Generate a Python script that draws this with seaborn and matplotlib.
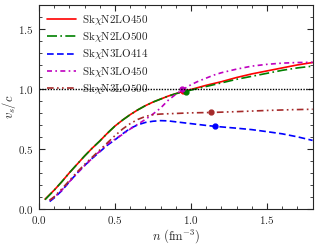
import numpy as np
import pandas as pd
import matplotlib
matplotlib.use("Agg")
import matplotlib.pyplot as plt
import seaborn as sns
from matplotlib.ticker import MultipleLocator

# curves: density n (fm^-3) and speed of sound v_s/c
n_red = [0.04, 0.1, 0.15, 0.2, 0.25, 0.3, 0.35, 0.4, 0.45, 0.5, 0.55, 0.6, 0.65, 0.7, 0.75, 0.8, 0.85,
         0.9, 0.95, 1.0, 1.1, 1.2, 1.3, 1.4, 1.5, 1.6, 1.7, 1.8]
v_red = [0.08, 0.155, 0.225, 0.30, 0.37, 0.44, 0.505, 0.565, 0.63, 0.69, 0.74, 0.785, 0.825, 0.86, 0.89,
         0.915, 0.94, 0.96, 0.98, 0.995, 1.03, 1.06, 1.095, 1.125, 1.15, 1.175, 1.20, 1.22]

n_green = [0.04, 0.1, 0.15, 0.2, 0.25, 0.3, 0.35, 0.4, 0.45, 0.5, 0.55, 0.6, 0.65, 0.7, 0.75, 0.8, 0.85,
           0.9, 0.95, 1.0, 1.1, 1.2, 1.3, 1.4, 1.5, 1.6, 1.7, 1.8]
v_green = [0.075, 0.155, 0.225, 0.30, 0.37, 0.44, 0.505, 0.565, 0.63, 0.69, 0.74, 0.785, 0.825, 0.86, 0.89,
           0.915, 0.94, 0.96, 0.975, 0.99, 1.02, 1.05, 1.08, 1.105, 1.13, 1.155, 1.175, 1.19]

n_blue = [0.07, 0.1, 0.15, 0.2, 0.25, 0.3, 0.35, 0.4, 0.45, 0.5, 0.55, 0.6, 0.65, 0.7, 0.75, 0.8, 0.85,
          0.9, 1.0, 1.1, 1.16, 1.3, 1.4, 1.5, 1.6, 1.7, 1.8]
v_blue = [0.06, 0.09, 0.15, 0.225, 0.295, 0.36, 0.42, 0.475, 0.53, 0.575, 0.625, 0.67, 0.70, 0.72, 0.73,
          0.735, 0.733, 0.725, 0.71, 0.695, 0.687, 0.672, 0.66, 0.643, 0.625, 0.60, 0.57]

n_mag = [0.07, 0.1, 0.15, 0.2, 0.25, 0.3, 0.35, 0.4, 0.45, 0.5, 0.55, 0.6, 0.65, 0.7, 0.75, 0.8, 0.85,
         0.9, 0.94, 1.0, 1.05, 1.1, 1.15, 1.2, 1.3, 1.4, 1.5, 1.6, 1.7, 1.8]
v_mag = [0.07, 0.095, 0.155, 0.225, 0.295, 0.36, 0.42, 0.48, 0.54, 0.58, 0.62, 0.665, 0.705, 0.745, 0.79,
         0.84, 0.905, 0.955, 0.99, 1.035, 1.065, 1.09, 1.115, 1.135, 1.165, 1.19, 1.205, 1.215, 1.22, 1.222]

n_brown = [0.07, 0.1, 0.15, 0.2, 0.25, 0.3, 0.35, 0.4, 0.45, 0.5, 0.55, 0.6, 0.65, 0.7, 0.75, 0.8, 0.9,
           1.0, 1.13, 1.3, 1.5, 1.65, 1.8]
v_brown = [0.07, 0.10, 0.165, 0.235, 0.305, 0.37, 0.43, 0.49, 0.55, 0.61, 0.665, 0.71, 0.745, 0.77, 0.785,
           0.79, 0.795, 0.80, 0.803, 0.81, 0.82, 0.826, 0.83]

# marked points
mark_n = [0.95, 0.965, 1.16, 0.94, 1.13]
mark_v = [0.98, 0.978, 0.687, 0.995, 0.803]

labels = [r"Sk$\chi$N2LO450", r"Sk$\chi$N2LO500", r"Sk$\chi$N3LO414",
          r"Sk$\chi$N3LO450", r"Sk$\chi$N3LO500"]

sns.set_style("ticks")
plt.rcParams["font.family"] = ["cmr10", "DejaVu Serif"]
plt.rcParams["mathtext.fontset"] = "cm"
plt.rcParams["axes.formatter.use_mathtext"] = True
plt.rcParams["font.size"] = 8

fig = plt.figure(figsize=(3.18, 2.46), dpi=100)
ax = fig.add_axes([0.1226, 0.1516, 0.8604, 0.828])

colors = ["red", "green", "blue", "m", "brown"]
styles = ["-", (0, (6, 2, 1, 2)), (0, (4, 2)), (0, (3, 2, 1, 2)), (0, (4, 2, 1, 2, 1, 2))]
ns = [n_red, n_green, n_blue, n_mag, n_brown]
vs = [v_red, v_green, v_blue, v_mag, v_brown]

for i in range(5):
    sns.lineplot(x=ns[i], y=vs[i], color=colors[i], linestyle=styles[i], lw=1.2,
                 label=labels[i], ax=ax)
    ax.plot(mark_n[i], mark_v[i], "o", color=colors[i], ms=3.5)

ax.axhline(1.0, color="black", ls=(0, (1, 1)), lw=1.0)

ax.set_xlim(0, 1.8)
ax.set_ylim(0, 1.7)
ax.xaxis.set_major_locator(MultipleLocator(0.5))
ax.xaxis.set_minor_locator(MultipleLocator(0.1))
ax.yaxis.set_major_locator(MultipleLocator(0.5))
ax.yaxis.set_minor_locator(MultipleLocator(0.1))
ax.tick_params(which="both", direction="in", top=True, right=True, labelsize=8)
ax.tick_params(which="major", length=4)
ax.tick_params(which="minor", length=2)
ax.set_xlabel(r"$n\ (\mathrm{fm}^{-3})$", fontsize=9, labelpad=1)
ax.set_ylabel(r"$v_s/c$", fontsize=9, labelpad=0)

ax.legend(loc="upper left", frameon=False, fontsize=8, handlelength=2.6,
          labelspacing=0.3, borderaxespad=0.3, handletextpad=0.6)

fig.savefig("out.png", dpi=100)
